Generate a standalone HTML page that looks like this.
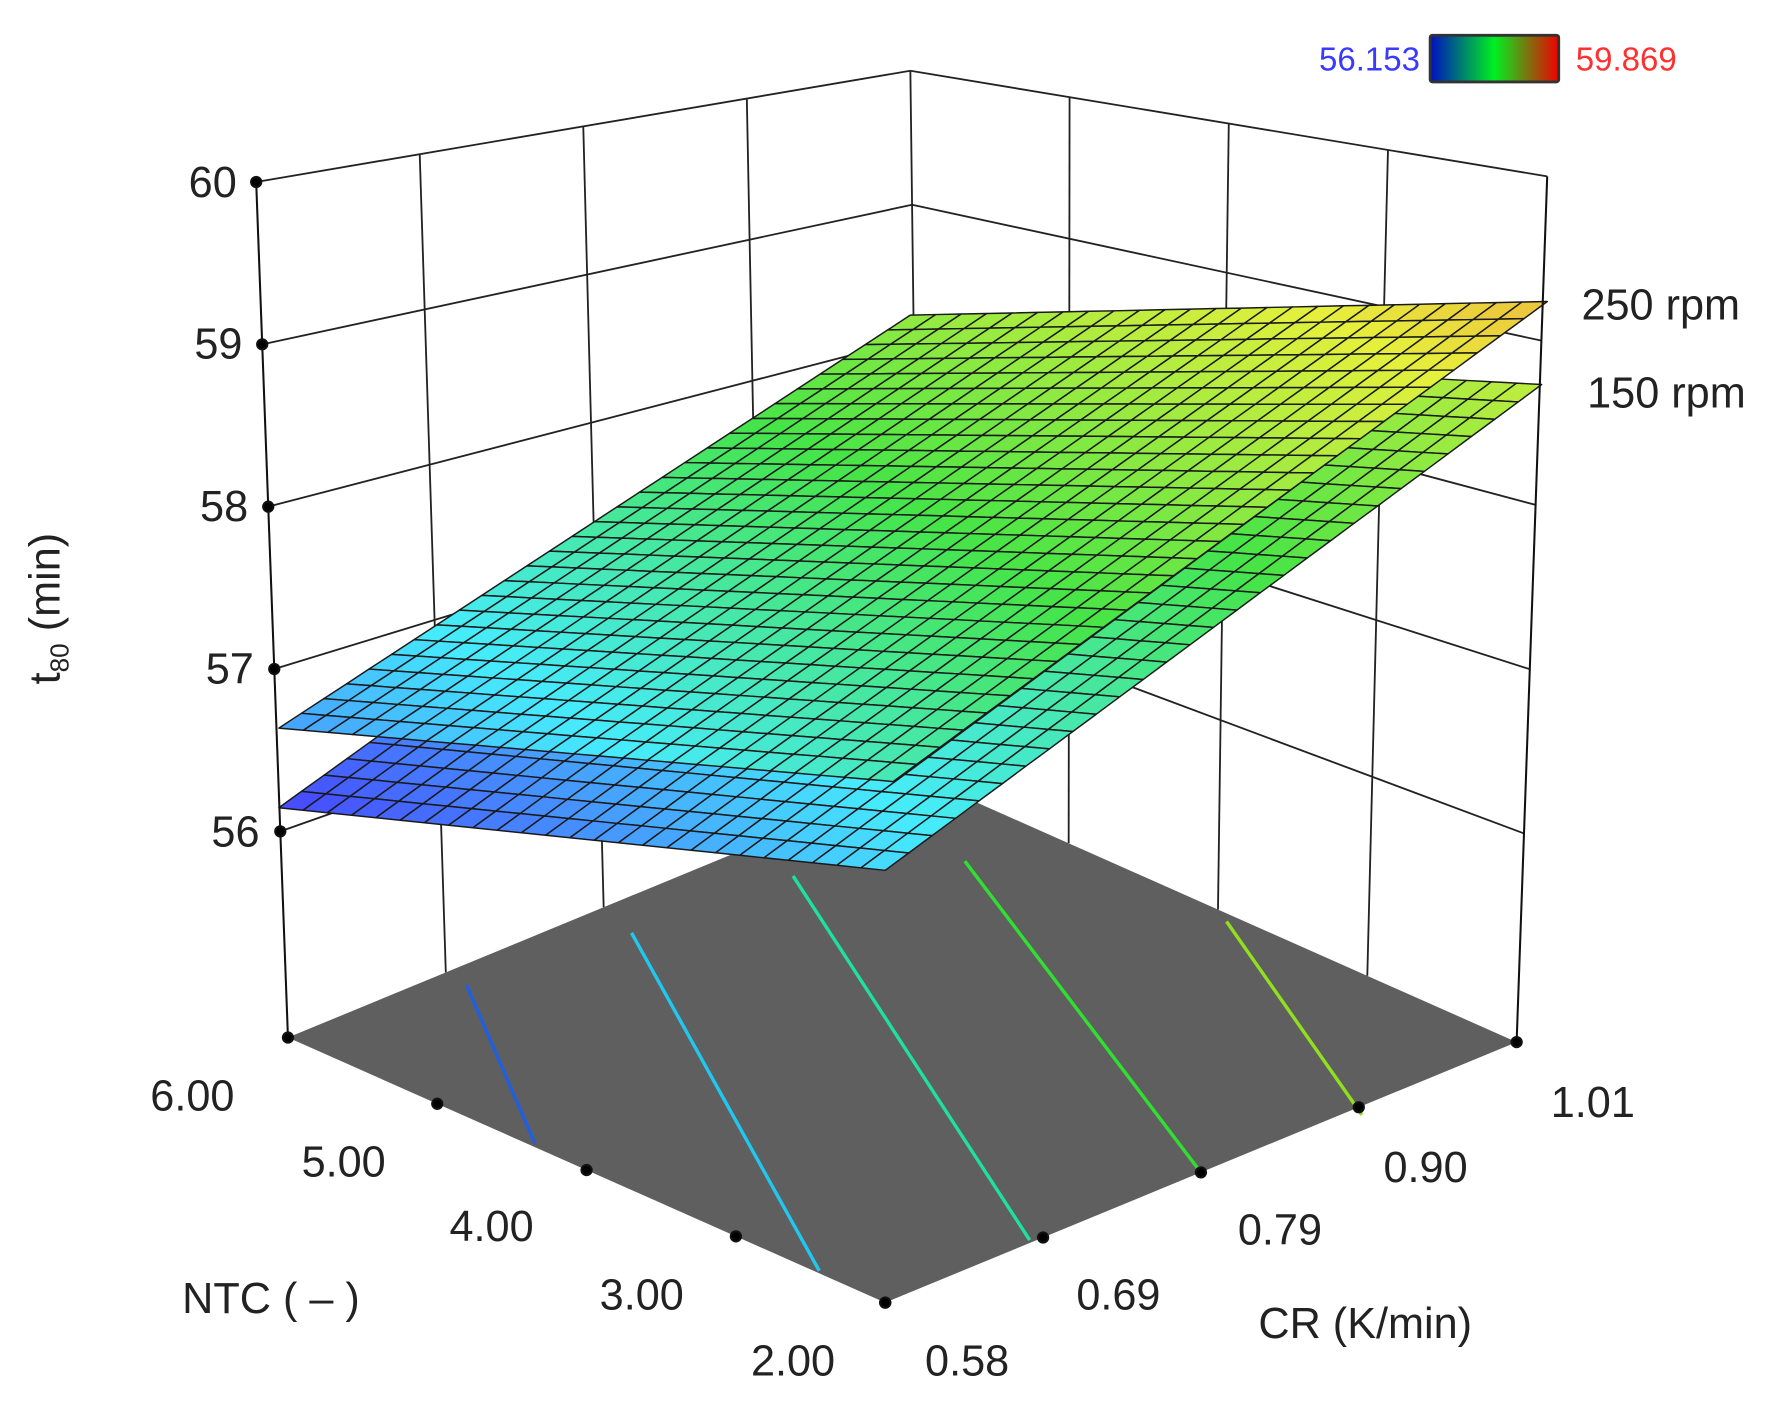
<!DOCTYPE html>
<html><head><meta charset="utf-8">
<style>html,body{margin:0;padding:0;background:#fff;}svg{display:block;}</style>
</head><body>
<svg id="s" xmlns="http://www.w3.org/2000/svg" width="1775" height="1405" viewBox="0 0 1560 1235" font-family="'Liberation Sans', 'DejaVu Sans', sans-serif">
<defs>
<linearGradient id="cb" x1="0" x2="1" y1="0" y2="0">
<stop offset="0" stop-color="#0010c0"/><stop offset="0.5" stop-color="#00f020"/><stop offset="1" stop-color="#f00000"/>
</linearGradient>
</defs>
<g id="walls" stroke="#222" stroke-width="1.6" fill="none"></g>
<polygon points="253,912 778,1145 1333,916 808,683" fill="#5f5f5f"/>
<g stroke-width="3" fill="none">
<line x1="410" y1="866" x2="470" y2="1005" stroke="#2060e0"/>
<line x1="555" y1="820" x2="720" y2="1117" stroke="#20c8f0"/>
<line x1="697" y1="770" x2="905" y2="1090" stroke="#20e0a0"/>
<line x1="848" y1="757" x2="1055" y2="1030" stroke="#30e030"/>
<line x1="1078" y1="810" x2="1197" y2="980" stroke="#90e020"/>
</g>
<g id="surf"></g>
<g id="axes" stroke="#111" stroke-width="1.8"></g>
<g font-size="38" fill="#222">
<text x="208" y="173" text-anchor="end">60</text>
<text x="213" y="315" text-anchor="end">59</text>
<text x="218" y="458" text-anchor="end">58</text>
<text x="223" y="601" text-anchor="end">57</text>
<text x="228" y="744" text-anchor="end">56</text>
<text x="1390" y="281">250 rpm</text>
<text x="1395" y="358">150 rpm</text>
<text x="132" y="976">6.00</text>
<text x="265" y="1034">5.00</text>
<text x="395" y="1091">4.00</text>
<text x="527" y="1151">3.00</text>
<text x="660" y="1209">2.00</text>
<text x="813" y="1209">0.58</text>
<text x="946" y="1151">0.69</text>
<text x="1088" y="1094">0.79</text>
<text x="1216" y="1039">0.90</text>
<text x="1363" y="982">1.01</text>
<text x="160" y="1154">NTC ( – )</text>
<text x="1106" y="1176">CR (K/min)</text>
<text transform="translate(52,535) rotate(-90)" text-anchor="middle">t<tspan font-size="23" dy="8">80</tspan><tspan dy="-8"> (min)</tspan></text>
</g>
<rect x="1257" y="31" width="113" height="41" fill="url(#cb)" stroke="#333" stroke-width="2.5" rx="2"/>
<text x="1248" y="62" font-size="29" fill="#3a3aff" text-anchor="end">56.153</text>
<text x="1385" y="62" font-size="29" fill="#ff3030">59.869</text>
</svg>
<script>
var NS="http://www.w3.org/2000/svg";
function el(p,t,a){var e=document.createElementNS(NS,t);for(var k in a)e.setAttribute(k,a[k]);p.appendChild(e);return e;}
var C={L:[253,912,142.7,-5.3],F:[778,1145,170,0],R:[1333,916,144.4,5.1],B:[808,683,117.8,-1.5]};
function bil(a,b,i){return C.L[i]*(1-a)*(1-b)+C.F[i]*a*(1-b)+C.R[i]*a*b+C.B[i]*(1-a)*b;}
function P(a,b,z){var h=z-54.73;return [bil(a,b,0)+bil(a,b,3)*h, bil(a,b,1)-bil(a,b,2)*h];}
var W=document.getElementById('walls');
function ln(g,p,q,w){el(g,'line',{x1:p[0],y1:p[1],x2:q[0],y2:q[1],'stroke-width':w||1.6});}
for(var z=56;z<=60;z++){ln(W,P(0,0,z),P(0,1,z));ln(W,P(0,1,z),P(1,1,z));}
for(var i=1;i<4;i++){var t=i/4;ln(W,P(0,t,54.73),P(0,t,60));ln(W,P(t,1,54.73),P(t,1,60));}
ln(W,P(0,1,54.73),P(0,1,60));
function col(v){var t=(v-56.153)/(59.869-56.153);t=Math.max(0,Math.min(1,t));
var st=[[0,[70,70,255]],[0.25,[70,235,255]],[0.5,[70,228,70]],[0.75,[230,240,60]],[1,[255,90,60]]];
for(var k=0;k<4;k++){if(t<=st[k+1][0]){var u=(t-st[k][0])/(st[k+1][0]-st[k][0]);var a=st[k][1],b=st[k+1][1];
return 'rgb('+Math.round(a[0]+(b[0]-a[0])*u)+','+Math.round(a[1]+(b[1]-a[1])*u)+','+Math.round(a[2]+(b[2]-a[2])*u)+')';}}return 'rgb(255,90,60)';}
function surf(pts){var g=document.getElementById('surf');var N=25,M=28;
function q(a,b,i){return pts.L[i]*(1-a)*(1-b)+pts.F[i]*a*(1-b)+pts.R[i]*a*b+pts.B[i]*(1-a)*b;}
for(var i=0;i<N;i++)for(var j=M-1;j>=0;j--){var a0=i/N,a1=(i+1)/N,b0=j/M,b1=(j+1)/M;
var p=[[a0,b0],[a1,b0],[a1,b1],[a0,b1]].map(function(x){return q(x[0],x[1],0).toFixed(1)+','+q(x[0],x[1],1).toFixed(1);}).join(' ');
var v=q((a0+a1)/2,(b0+b1)/2,2);
el(g,'polygon',{points:p,fill:col(v),stroke:'#1a1a1a','stroke-width':1.3,'stroke-linejoin':'round'});}}
surf({L:[245,710,56.15],F:[778,765,56.97],R:[1355,338,58.73],B:[803,308,57.91]});
surf({L:[245,640,56.64],F:[785,687,57.43],R:[1360,265,59.24],B:[800,277,58.45]});
var A=document.getElementById('axes');
ln(A,P(0,0,54.73),P(0,0,60),1.8);ln(A,P(1,1,54.73),P(1,1,60),1.8);
for(var z=56;z<=60;z++){var p=P(0,0,z);el(A,'circle',{cx:p[0],cy:p[1],r:4.5,fill:'#000'});}
for(var i=0;i<=4;i++){var p=P(i/4,0,54.73);el(A,'circle',{cx:p[0],cy:p[1],r:4.5,fill:'#000'});var q2=P(1,i/4,54.73);el(A,'circle',{cx:q2[0],cy:q2[1],r:4.5,fill:'#000'});}
</script>
</body></html>
